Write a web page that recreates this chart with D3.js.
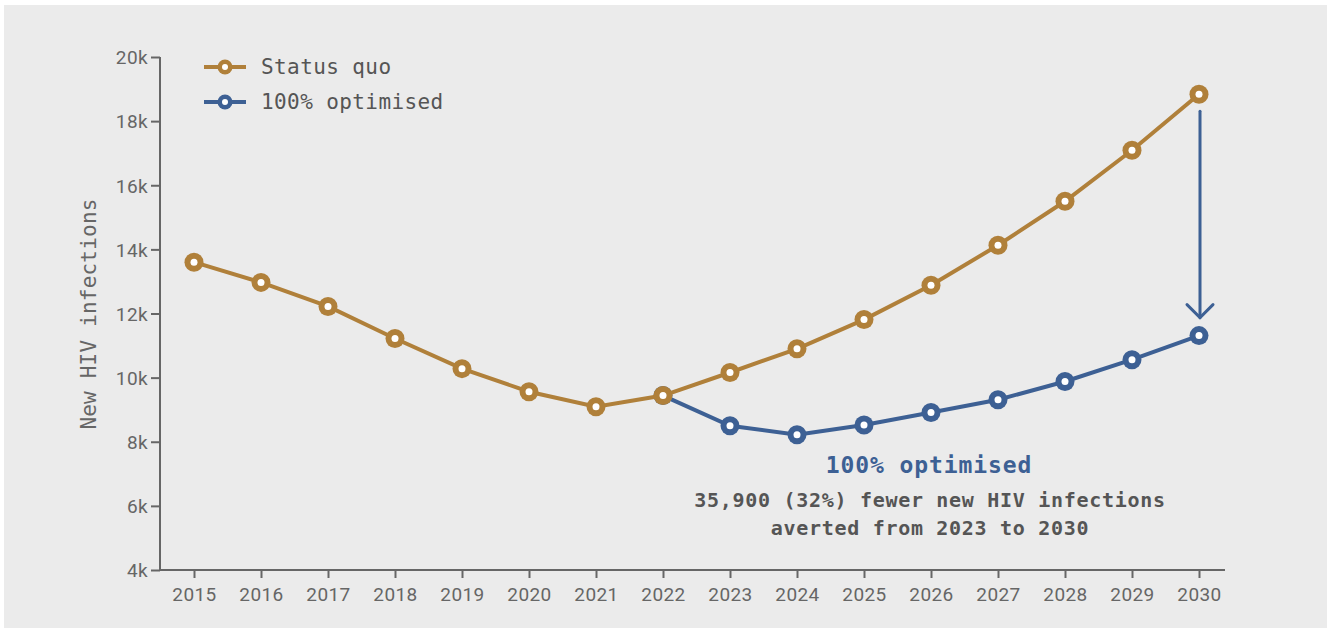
<!DOCTYPE html>
<html>
<head>
<meta charset="utf-8">
<script src="https://cdn.jsdelivr.net/npm/d3@7"></script>
<style>
  body { margin: 0; background: #fff; }
  svg { display: block; }
  .tick text { font-family: Roboto, "Liberation Sans", sans-serif; font-size: 19px; fill: #666; letter-spacing: 0.4px; }
  .mono { font-family: "DejaVu Sans Mono", "Liberation Mono", monospace; }
</style>
</head>
<body>
<svg id="chart" width="1328" height="633"></svg>
<script>
// chart values
const years = [2015, 2016, 2017, 2018, 2019, 2020, 2021, 2022, 2023, 2024, 2025, 2026, 2027, 2028, 2029, 2030];
const statusQuo = [13600, 12970, 12220, 11220, 10280, 9560, 9090, 9440, 10160, 10900, 11810, 12880, 14130, 15500, 17090, 18840];
const optYears = [2022, 2023, 2024, 2025, 2026, 2027, 2028, 2029, 2030];
const optimised = [9440, 8500, 8220, 8520, 8910, 9310, 9880, 10560, 11310];
const yTicks = [4000, 6000, 8000, 10000, 12000, 14000, 16000, 18000, 20000];
const seriesNames = ["Status quo", "100% optimised"];
const annoLines = ["100% optimised", "35,900 (32%) fewer new HIV infections", "averted from 2023 to 2030"];

const gold = "#b0803a", blue = "#3d6094";
const svg = d3.select("#chart");

// grey panel
svg.append("rect").attr("x", 4).attr("y", 5).attr("width", 1323).attr("height", 623).attr("fill", "#ebebeb");

const x = d3.scaleLinear().domain([2015, 2030]).range([194, 1199]);
const y = d3.scaleLinear().domain([4000, 20000]).range([570, 57]);

// axes
const xAxis = svg.append("g").attr("transform", "translate(0,570)")
  .call(d3.axisBottom(x).tickValues(years).tickFormat(d3.format("d")).tickSize(8).tickPadding(9));
xAxis.select(".domain").attr("d", "M160,0H1225");
const yAxis = svg.append("g").attr("transform", "translate(160,0)")
  .call(d3.axisLeft(y).tickValues(yTicks).tickFormat(d => d / 1000 + "k").tickSize(9).tickPadding(3));
yAxis.select(".domain").attr("d", "M0,57V570");
svg.selectAll(".domain, .tick line").attr("stroke", "#666").attr("stroke-width", 2);
yAxis.selectAll(".tick text").attr("dy", "0.36em");
xAxis.selectAll(".tick text").attr("dy", "0.75em");

svg.append("text").attr("class", "mono")
  .attr("transform", "translate(96,314) rotate(-90)")
  .attr("text-anchor", "middle").attr("fill", "#666").style("font-size", "21px")
  .style("letter-spacing", "0.2px")
  .text("New HIV infections");

// lines
const line = d3.line().x(d => x(d[0])).y(d => y(d[1]));
function drawSeries(xs, vals, color) {
  const pts = xs.map((yr, i) => [yr, vals[i]]);
  svg.append("path").datum(pts).attr("fill", "none").attr("stroke", color)
    .attr("stroke-width", 4).attr("d", line);
  const g = svg.append("g");
  g.selectAll(".outer").data(pts).join("circle").attr("cx", d => x(d[0])).attr("cy", d => y(d[1]))
    .attr("r", 9.5).attr("fill", color);
  g.selectAll(".inner").data(pts).join("circle").attr("cx", d => x(d[0])).attr("cy", d => y(d[1]))
    .attr("r", 3.5).attr("fill", "#fff");
}
drawSeries(optYears, optimised, blue);
drawSeries(years, statusQuo, gold);

// arrow from status quo 2030 to optimised 2030
const ax = x(2030) + 1;
const y0 = y(statusQuo[statusQuo.length - 1]) + 17;
const y1 = y(optimised[optimised.length - 1]) - 18;
svg.append("line").attr("x1", ax).attr("x2", ax).attr("y1", y0).attr("y2", y1)
  .attr("stroke", blue).attr("stroke-width", 3).attr("stroke-linecap", "round");
svg.append("path").attr("d", `M${ax - 13},${y1 - 13}L${ax},${y1}L${ax + 13},${y1 - 13}`)
  .attr("fill", "none").attr("stroke", blue).attr("stroke-width", 3).attr("stroke-linecap", "round");

// legend
const legend = svg.append("g").attr("transform", "translate(204,67)");
[gold, blue].forEach((c, i) => {
  const g = legend.append("g").attr("transform", `translate(0,${i * 35})`);
  g.append("line").attr("x1", 0).attr("x2", 42).attr("stroke", c).attr("stroke-width", 4);
  g.append("circle").attr("cx", 21).attr("r", 7.5).attr("fill", c);
  g.append("circle").attr("cx", 21).attr("r", 3).attr("fill", "#fff");
  g.append("text").attr("class", "mono").attr("x", 57).attr("dy", "0.35em")
    .attr("fill", "#555").style("font-size", "21px").style("letter-spacing", "0.4px")
    .text(seriesNames[i]);
});

// annotation
const anno = svg.append("text").attr("class", "mono").attr("text-anchor", "middle")
  .style("font-weight", "bold");
anno.append("tspan").attr("x", 929).attr("y", 473).attr("fill", blue).style("font-size", "23px")
  .style("letter-spacing", "0.9px").text(annoLines[0]);
anno.append("tspan").attr("x", 930).attr("y", 507).attr("fill", "#555").style("font-size", "20px")
  .style("letter-spacing", "0.7px").text(annoLines[1]);
anno.append("tspan").attr("x", 930).attr("y", 535).attr("fill", "#555").style("font-size", "20px")
  .style("letter-spacing", "0.7px").text(annoLines[2]);
</script>
</body>
</html>
